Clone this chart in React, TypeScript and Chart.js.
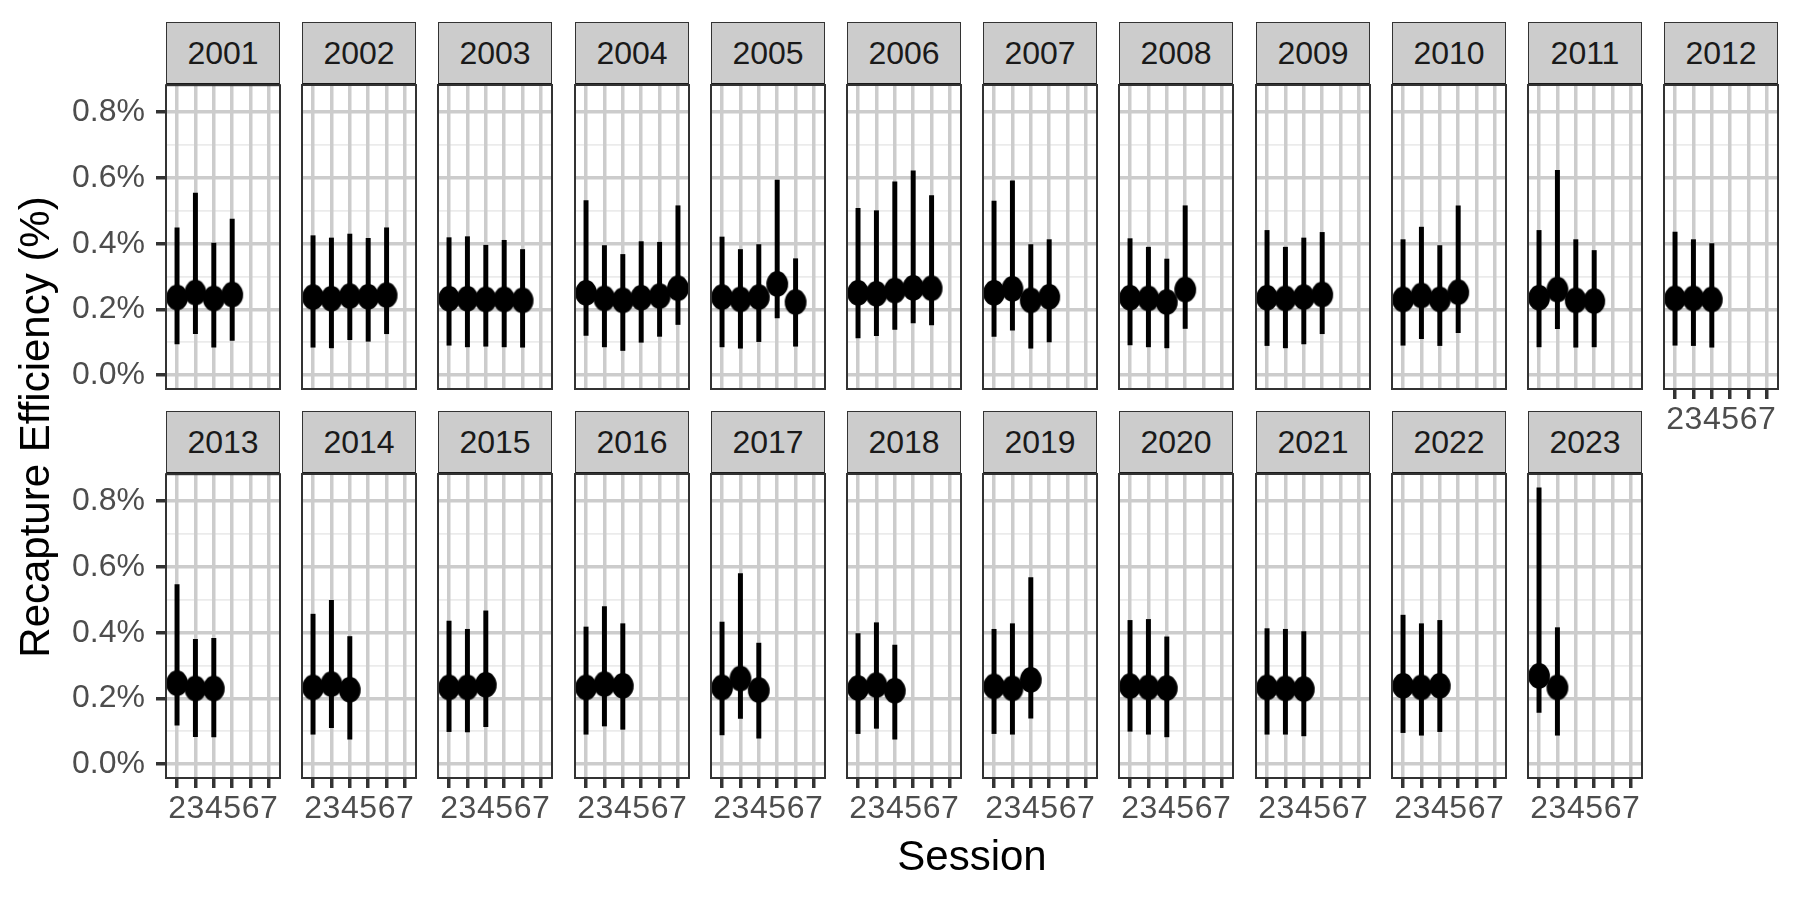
import React, { useEffect, useRef } from 'react';
import { Chart, registerables } from 'chart.js';

Chart.register(...registerables);

// ---------------- data ----------------
const years = [
  2001, 2002, 2003, 2004, 2005, 2006, 2007, 2008, 2009, 2010, 2011, 2012,
  2013, 2014, 2015, 2016, 2017, 2018, 2019, 2020, 2021, 2022, 2023,
];

const sessionTicks = [2, 3, 4, 5, 6, 7];
const yMajorTicks = [0, 0.2, 0.4, 0.6, 0.8];
const yMinorTicks = [0.1, 0.3, 0.5, 0.7];

// estimates (%) per year, sessions starting at 2
const estimates = [
  [0.236, 0.251, 0.233, 0.245],
  [0.237, 0.232, 0.24, 0.238, 0.243],
  [0.232, 0.232, 0.23, 0.23, 0.227],
  [0.25, 0.233, 0.227, 0.235, 0.24, 0.264],
  [0.237, 0.23, 0.237, 0.277, 0.222],
  [0.25, 0.247, 0.257, 0.265, 0.264],
  [0.25, 0.262, 0.227, 0.238],
  [0.235, 0.233, 0.222, 0.26],
  [0.235, 0.233, 0.237, 0.245],
  [0.23, 0.242, 0.23, 0.252],
  [0.235, 0.26, 0.227, 0.225],
  [0.233, 0.233, 0.23],
  [0.246, 0.23, 0.23],
  [0.233, 0.243, 0.226],
  [0.233, 0.233, 0.241],
  [0.233, 0.243, 0.238],
  [0.233, 0.26, 0.225],
  [0.231, 0.24, 0.223],
  [0.236, 0.23, 0.256],
  [0.237, 0.233, 0.231],
  [0.233, 0.23, 0.228],
  [0.238, 0.233, 0.238],
  [0.268, 0.233],
];

const lowerCI = [
  [0.095, 0.126, 0.085, 0.106],
  [0.085, 0.083, 0.108, 0.103, 0.126],
  [0.091, 0.086, 0.088, 0.086, 0.085],
  [0.121, 0.086, 0.075, 0.1, 0.118, 0.154],
  [0.086, 0.082, 0.102, 0.174, 0.088],
  [0.113, 0.12, 0.139, 0.159, 0.153],
  [0.118, 0.137, 0.082, 0.101],
  [0.092, 0.086, 0.083, 0.142],
  [0.09, 0.083, 0.095, 0.126],
  [0.091, 0.111, 0.09, 0.129],
  [0.086, 0.141, 0.085, 0.086],
  [0.091, 0.09, 0.085],
  [0.119, 0.084, 0.083],
  [0.091, 0.111, 0.076],
  [0.099, 0.098, 0.114],
  [0.091, 0.116, 0.106],
  [0.089, 0.139, 0.079],
  [0.093, 0.109, 0.076],
  [0.093, 0.091, 0.14],
  [0.1, 0.091, 0.083],
  [0.091, 0.091, 0.086],
  [0.096, 0.088, 0.099],
  [0.157, 0.088],
];

const upperCI = [
  [0.448, 0.554, 0.402, 0.475],
  [0.424, 0.417, 0.429, 0.416, 0.448],
  [0.418, 0.421, 0.395, 0.41, 0.382],
  [0.531, 0.394, 0.367, 0.406, 0.404, 0.515],
  [0.42, 0.382, 0.397, 0.593, 0.354],
  [0.507, 0.5, 0.588, 0.621, 0.546],
  [0.529, 0.591, 0.397, 0.412],
  [0.415, 0.389, 0.353, 0.515],
  [0.44, 0.389, 0.417, 0.434],
  [0.412, 0.45, 0.394, 0.515],
  [0.44, 0.623, 0.412, 0.379],
  [0.435, 0.412, 0.4],
  [0.546, 0.38, 0.383],
  [0.456, 0.498, 0.388],
  [0.435, 0.41, 0.466],
  [0.417, 0.479, 0.427],
  [0.432, 0.579, 0.368],
  [0.397, 0.43, 0.362],
  [0.41, 0.427, 0.567],
  [0.437, 0.44, 0.387],
  [0.412, 0.41, 0.403],
  [0.453, 0.427, 0.437],
  [0.84, 0.415],
];

// ---------------- style / layout ----------------
const FONT = '"Liberation Sans", Arial, Helvetica, sans-serif';
const COLS = 12;
const PANEL_W = 114;
const PANEL_H = 304;
const COL0_LEFT = 166;
const COL_PITCH = 136.2;
const ROW0_TOP = 85;
const ROW_PITCH = 389;
const STRIP_H = 63;
const PAD = 30;
const GRID_MAJOR = '#cccccc';
const GRID_MINOR = '#ebebeb';
const AXIS_TEXT = '#4d4d4d';
const TICK_FONT = 32;
const TITLE_FONT = 42;

const isMajor = (v: number) => Math.round(v * 10) % 2 === 0;

function makeEllipse(): HTMLCanvasElement {
  const c = document.createElement('canvas');
  c.width = 24;
  c.height = 28;
  const g = c.getContext('2d')!;
  g.fillStyle = '#000';
  g.beginPath();
  g.ellipse(12, 14, 10.9, 12.9, 0, 0, Math.PI * 2);
  g.fill();
  return c;
}

const borderPlugin = {
  id: 'panelBorder',
  afterDraw(chart: any) {
    const { ctx, chartArea } = chart;
    ctx.save();
    ctx.strokeStyle = '#333333';
    ctx.lineWidth = 2;
    ctx.strokeRect(chartArea.left, chartArea.top, chartArea.right - chartArea.left, chartArea.bottom - chartArea.top);
    ctx.restore();
  },
};

function Panel({ idx }: { idx: number }) {
  const ref = useRef<HTMLCanvasElement | null>(null);
  const col = idx % COLS;
  const row = Math.floor(idx / COLS);
  const showY = col === 0;
  const showX = idx + COLS >= years.length;
  const L = showY ? 140 : 1;
  const B = showX ? 60 : 1;
  const panelLeft = Math.round(COL0_LEFT + col * COL_PITCH);
  const panelTop = ROW0_TOP + row * ROW_PITCH;
  const left = panelLeft - L - PAD;
  const top = panelTop - PAD;
  const width = PAD + L + PANEL_W + PAD;
  const height = PAD + PANEL_H + B + PAD;

  useEffect(() => {
    if (!ref.current) return;
    const ellipse = makeEllipse();
    const est = estimates[idx];
    const lo = lowerCI[idx];
    const hi = upperCI[idx];
    const sessions = est.map((_, i) => sessionTicks[i]);
    const yTicksAll = [...yMajorTicks, ...yMinorTicks].sort((a, b) => a - b);

    const chart = new Chart(ref.current, {
      type: 'scatter',
      data: {
        datasets: [
          {
            type: 'scatter',
            data: sessions.map((s, i) => ({ x: s, y: est[i] })),
            pointStyle: ellipse as any,
            pointRadius: 10,
            backgroundColor: '#000',
            borderWidth: 0,
            order: 0,
          } as any,
          {
            type: 'bar',
            data: sessions.map((s, i) => ({ x: s, y: [lo[i], hi[i]] })),
            backgroundColor: '#000',
            borderWidth: 0,
            barThickness: 4.3,
            order: 1,
          } as any,
        ],
      },
      options: {
        responsive: false,
        animation: false,
        devicePixelRatio: 1,
        events: [],
        layout: { padding: { top: PAD, right: PAD, left: PAD, bottom: PAD } },
        plugins: {
          legend: { display: false },
          tooltip: { enabled: false },
          title: { display: false },
        },
        scales: {
          x: {
            type: 'linear',
            min: 1.4,
            max: 7.6,
            offset: false,
            afterBuildTicks: (s: any) => {
              s.ticks = sessionTicks.map((v) => ({ value: v }));
            },
            afterFit: (s: any) => {
              s.height = B;
            },
            grid: {
              color: GRID_MAJOR,
              lineWidth: 3.5,
              drawTicks: showX,
              tickLength: 10,
              tickColor: '#333333',
              tickWidth: 3.5,
              offset: false,
            },
            border: { display: false },
            ticks: {
              display: showX,
              autoSkip: false,
              maxRotation: 0,
              minRotation: 0,
              padding: 2,
              color: AXIS_TEXT,
              font: { family: FONT, size: TICK_FONT },
              callback: (v: any) => String(v),
            },
          },
          y: {
            type: 'linear',
            min: -0.042,
            max: 0.882,
            afterBuildTicks: (s: any) => {
              s.ticks = yTicksAll.map((v) => ({ value: v }));
            },
            afterFit: (s: any) => {
              s.width = L;
            },
            grid: {
              z: -2,
              color: (c: any) => (isMajor(c.tick.value) ? GRID_MAJOR : GRID_MINOR),
              lineWidth: (c: any) => (isMajor(c.tick.value) ? 3.5 : 1.75),
              drawTicks: showY,
              tickLength: 10,
              tickColor: (c: any) => (isMajor(c.tick.value) ? '#333333' : 'rgba(0,0,0,0)'),
              tickWidth: 3.5,
            },
            border: { display: false },
            ticks: {
              display: showY,
              autoSkip: false,
              padding: 11,
              color: AXIS_TEXT,
              font: { family: FONT, size: TICK_FONT },
              callback: (v: any) => (isMajor(Number(v)) ? Number(v).toFixed(1) + '%' : ''),
            },
          },
        },
      } as any,
      plugins: [borderPlugin],
    });
    return () => chart.destroy();
  }, [idx]);

  const stripTop = panelTop - STRIP_H;

  return (
    <>
      <div
        style={{
          position: 'absolute',
          left: panelLeft,
          top: stripTop,
          width: PANEL_W,
          height: STRIP_H,
          boxSizing: 'border-box',
          border: '1.7px solid #333333',
          borderBottom: '2.5px solid #1a1a1a',
          background: '#cccccc',
          display: 'flex',
          alignItems: 'center',
          justifyContent: 'center',
          fontFamily: FONT,
          fontSize: TICK_FONT,
          color: '#1a1a1a',
        }}
      >
        {years[idx]}
      </div>
      <canvas
        ref={ref}
        width={width}
        height={height}
        style={{ position: 'absolute', left, top, width, height }}
      />
    </>
  );
}

export default function App() {
  return (
    <div
      style={{
        position: 'absolute',
        left: 0,
        top: 0,
        width: 1800,
        height: 900,
        background: '#ffffff',
        overflow: 'hidden',
      }}
    >
      {years.map((_, i) => (
        <Panel key={i} idx={i} />
      ))}
      <div
        style={{
          position: 'absolute',
          left: 35 - 300,
          top: 427 - 21,
          width: 600,
          height: 42,
          lineHeight: '42px',
          textAlign: 'center',
          transform: 'rotate(-90deg)',
          fontFamily: FONT,
          fontSize: TITLE_FONT,
          color: '#000',
          whiteSpace: 'nowrap',
        }}
      >
        Recapture Efficiency (%)
      </div>
      <div
        style={{
          position: 'absolute',
          left: 972 - 200,
          top: 835,
          width: 400,
          height: 42,
          lineHeight: '42px',
          textAlign: 'center',
          fontFamily: FONT,
          fontSize: TITLE_FONT,
          color: '#000',
        }}
      >
        Session
      </div>
    </div>
  );
}
